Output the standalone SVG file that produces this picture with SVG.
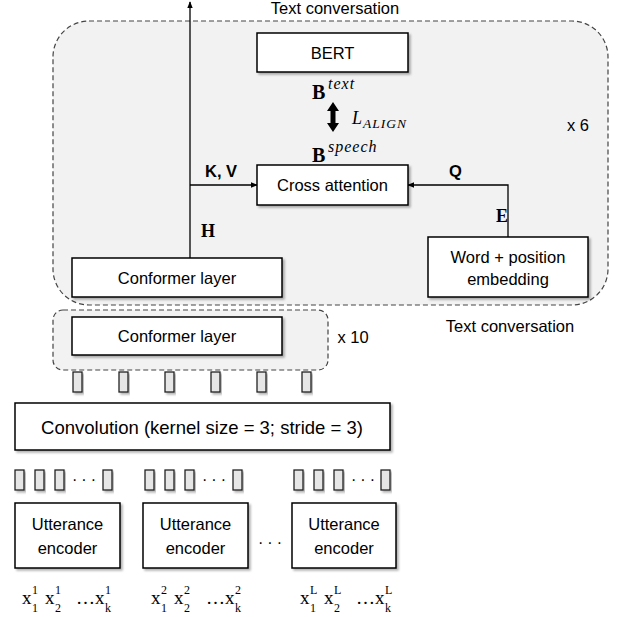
<svg xmlns="http://www.w3.org/2000/svg" width="624" height="617" viewBox="0 0 624 617">
<defs>
<filter id="sh" x="-10%" y="-10%" width="130%" height="140%">
<feDropShadow dx="2" dy="2" stdDeviation="1.3" flood-color="#000" flood-opacity="0.3"/>
</filter>
<marker id="ah" viewBox="0 0 10 10" refX="9" refY="5" markerWidth="7" markerHeight="7" orient="auto-start-reverse" markerUnits="userSpaceOnUse">
<path d="M0,1 L10,5 L0,9 z" fill="#000"/>
</marker>
</defs>
<style>
.box{fill:#fff;stroke:#000;stroke-width:1.5;filter:url(#sh)}
.tok{fill:#e6e6e6;stroke:#222;stroke-width:1.3;filter:url(#sh)}
.dash{fill:#f2f2f2;stroke:#444;stroke-width:1.2;stroke-dasharray:5,3}
.t{font-family:"Liberation Sans",Arial,sans-serif;font-size:16.5px;fill:#000;text-anchor:middle;dominant-baseline:central}
.tl{font-family:"Liberation Sans",Arial,sans-serif;font-size:16.5px;fill:#000}
.bs{font-family:"Liberation Sans",Arial,sans-serif;font-size:16.5px;font-weight:bold;fill:#000}
.bm{font-family:"Liberation Serif","Times New Roman",serif;font-size:20px;font-weight:bold;fill:#000}
.bl{font-family:"Liberation Serif","Times New Roman",serif;font-size:18px;font-weight:bold;fill:#000}
.im{font-family:"Liberation Serif","Times New Roman",serif;font-style:italic;fill:#000}
.xm{font-family:"Liberation Serif","Times New Roman",serif;font-size:19px;fill:#000}
.xs{font-family:"Liberation Serif","Times New Roman",serif;font-size:12px;fill:#000}
.ln{stroke:#000;stroke-width:1.3;fill:none}
.dot{font-family:"Liberation Sans",Arial,sans-serif;font-size:16px;fill:#000;letter-spacing:4px}
</style>

<g id="containers">
<rect class="dash" x="53" y="21" width="555" height="284" rx="36"/>
<rect class="dash" x="53" y="310" width="275" height="60" rx="10"/>
</g>

<g id="connectors">
<line class="ln" x1="190" y1="258" x2="190" y2="2" marker-end="url(#ah)"/>
<line class="ln" x1="190" y1="185" x2="257" y2="185" marker-end="url(#ah)"/>
<polyline class="ln" points="508,237 508,185 408,185" marker-end="url(#ah)"/>
<polygon points="333,102 339,111 335.5,111 335.5,123 339,123 333,132 327,123 330.5,123 330.5,111 327,111" fill="#000"/>
</g>

<g id="labels">
<text class="tl" x="335" y="14" text-anchor="middle">Text conversation</text>
<text class="tl" x="510" y="332" text-anchor="middle">Text conversation</text>
<text class="tl" x="578" y="131" text-anchor="middle">x 6</text>
<text class="tl" x="353" y="343" text-anchor="middle">x 10</text>
<text class="bs" x="205" y="177">K, V</text>
<text class="bs" x="449" y="177">Q</text>
<text class="bl" x="496" y="222">E</text>
<text class="bl" x="201" y="237">H</text>
<text class="bm" x="312" y="99">B</text>
<text class="im" x="328" y="89" font-size="16" letter-spacing="1">text</text>
<text class="im" x="352" y="124" font-size="18">L</text>
<text class="im" x="363" y="128" font-size="13.5" letter-spacing="1">ALIGN</text>
<text class="bm" x="312" y="162">B</text>
<text class="im" x="328" y="152" font-size="16" letter-spacing="1">speech</text>
</g>

<g id="bert"><rect class="box" x="257" y="33" width="151" height="39"/><text class="t" x="332.5" y="53">BERT</text></g>
<g id="cross-attention"><rect class="box" x="257" y="165" width="151" height="40"/><text class="t" x="332.5" y="185">Cross attention</text></g>
<g id="conformer-top"><rect class="box" x="72" y="258" width="210" height="39"/><text class="t" x="177" y="278">Conformer layer</text></g>
<g id="word-position"><rect class="box" x="428" y="237" width="160" height="60"/><text class="t" x="508" y="257">Word + position</text><text class="t" x="508" y="279">embedding</text></g>
<g id="conformer-x10"><rect class="box" x="72" y="317" width="210" height="38"/><text class="t" x="177" y="336">Conformer layer</text></g>

<g id="frames">
<rect class="tok" x="73" y="372" width="9" height="20"/>
<rect class="tok" x="119" y="372" width="9" height="20"/>
<rect class="tok" x="165" y="372" width="9" height="20"/>
<rect class="tok" x="211" y="372" width="9" height="20"/>
<rect class="tok" x="257" y="372" width="9" height="20"/>
<rect class="tok" x="302" y="372" width="9" height="20"/>
</g>

<g id="convolution"><rect class="box" x="15" y="403" width="375" height="47"/><text class="t" x="202" y="427" style="font-size:18.5px">Convolution (kernel size = 3; stride = 3)</text></g>

<g id="tokens">
<rect class="tok" x="15" y="470" width="9" height="20"/>
<rect class="tok" x="35" y="470" width="9" height="20"/>
<rect class="tok" x="55" y="470" width="9" height="20"/>
<text class="dot" x="72" y="485">···</text>
<rect class="tok" x="103" y="470" width="9" height="20"/>
<rect class="tok" x="145" y="470" width="9" height="20"/>
<rect class="tok" x="165" y="470" width="9" height="20"/>
<rect class="tok" x="185" y="470" width="9" height="20"/>
<text class="dot" x="202" y="485">···</text>
<rect class="tok" x="233" y="470" width="9" height="20"/>
<rect class="tok" x="294" y="470" width="9" height="20"/>
<rect class="tok" x="314" y="470" width="9" height="20"/>
<rect class="tok" x="334" y="470" width="9" height="20"/>
<text class="dot" x="351" y="485">···</text>
<rect class="tok" x="381" y="470" width="9" height="20"/>
</g>

<g id="utt1"><rect class="box" x="15" y="503" width="105" height="65"/><text class="t" x="67.5" y="524">Utterance</text><text class="t" x="67.5" y="548">encoder</text></g>
<g id="utt2"><rect class="box" x="143" y="503" width="105" height="65"/><text class="t" x="195.5" y="524">Utterance</text><text class="t" x="195.5" y="548">encoder</text></g>
<text class="dot" x="258" y="548">···</text>
<g id="uttL"><rect class="box" x="292" y="503" width="104" height="65"/><text class="t" x="344" y="524">Utterance</text><text class="t" x="344" y="548">encoder</text></g>

<g id="inputs">
<text class="xm" x="22" y="604">x</text><text class="xs" x="32" y="594">1</text><text class="xs" x="32" y="612">1</text>
<text class="xm" x="45" y="604">x</text><text class="xs" x="55" y="594">1</text><text class="xs" x="55" y="612">2</text>
<text class="xm" x="76" y="604">…x</text><text class="xs" x="105" y="594">1</text><text class="xs" x="105" y="612">k</text>

<text class="xm" x="151" y="604">x</text><text class="xs" x="161" y="594">2</text><text class="xs" x="161" y="612">1</text>
<text class="xm" x="174" y="604">x</text><text class="xs" x="184" y="594">2</text><text class="xs" x="184" y="612">2</text>
<text class="xm" x="206" y="604">…x</text><text class="xs" x="235" y="594">2</text><text class="xs" x="235" y="612">k</text>

<text class="xm" x="300" y="604">x</text><text class="xs" x="310" y="594">L</text><text class="xs" x="310" y="612">1</text>
<text class="xm" x="324" y="604">x</text><text class="xs" x="334" y="594">L</text><text class="xs" x="334" y="612">2</text>
<text class="xm" x="356" y="604">…x</text><text class="xs" x="385" y="594">L</text><text class="xs" x="385" y="612">k</text>
</g>
</svg>
